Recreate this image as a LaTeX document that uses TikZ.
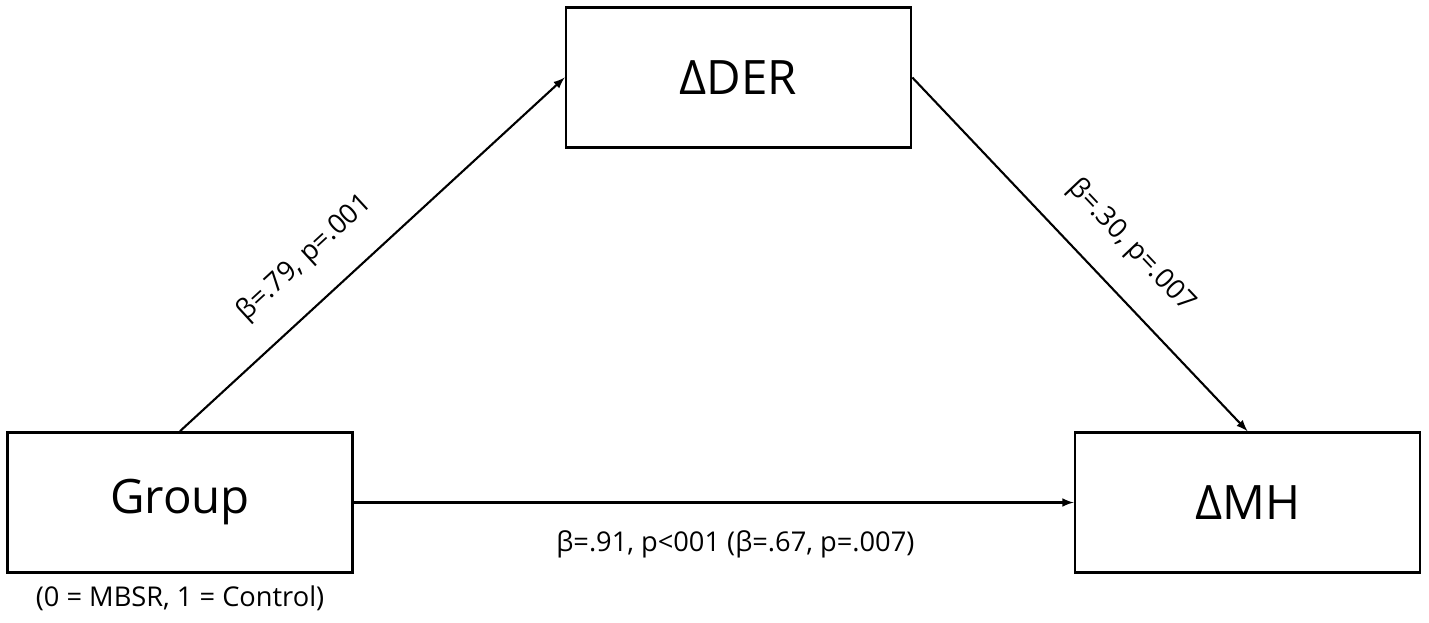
\documentclass[tikz,border=0pt]{standalone}
\usepackage{fontspec}
\setmainfont{Open Sans}
\usepackage{tikz}
\tikzset{>=latex}
\usetikzlibrary{positioning}
\tikzset{var/.style={draw, line width=1.5pt, minimum width=6.9cm, minimum height=2.8cm, font=\fontsize{27}{32}\selectfont},
    lab/.style={font=\fontsize{15.5}{18}\selectfont}}

\begin{document}
\begin{tikzpicture}
    \useasboundingbox(0, 0)rectangle(28.58, -12.44);
    \node[var](der)at(14.77, -1.55){ΔDER};
    \node[var](grp)at(3.6, -10.05){Group};
    \node[var](mh)at(24.95, -10.05){ΔMH};
    \node[lab, below=0.12cm of grp](code){(0 = MBSR, 1 = Control)};
    \draw[->, line width=1.2pt](grp.north)--(der.west)node[lab, pos=.4, sloped, above=.45cm]{β=.79, p=.001};
    \draw[->, line width=1.2pt](der.east)--(mh.north)node[lab, pos=.56, sloped, above=.45cm]{β=.30, p=.007};
    \draw[->, line width=1.2pt](grp.east)--(mh.west)node[lab, pos=.53, below=.42cm]{β=.91, p<001 (β=.67, p=.007)};
\end{tikzpicture}
\end{document}
